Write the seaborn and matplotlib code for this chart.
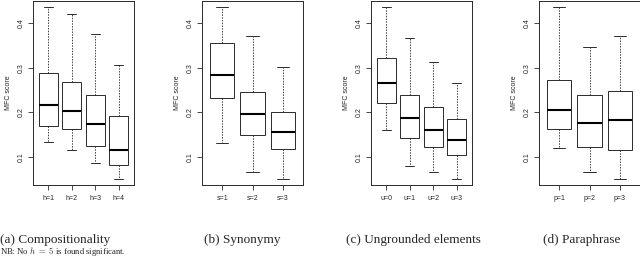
import numpy as np
import pandas as pd
import matplotlib
matplotlib.use("Agg")
import matplotlib.pyplot as plt
import seaborn as sns

# five-number summaries: min, q1, median, q3, max
comp_labels = ["h=1", "h=2", "h=3", "h=4"]
comp_vals = [[0.133, 0.169, 0.217, 0.289, 0.436],
             [0.116, 0.163, 0.203, 0.268, 0.420],
             [0.085, 0.124, 0.173, 0.239, 0.375],
             [0.051, 0.081, 0.115, 0.192, 0.307]]

syn_labels = ["s=1", "s=2", "s=3"]
syn_vals = [[0.131, 0.231, 0.284, 0.356, 0.436],
            [0.066, 0.148, 0.196, 0.245, 0.372],
            [0.051, 0.117, 0.155, 0.201, 0.301]]

ung_labels = ["u=0", "u=1", "u=2", "u=3"]
ung_vals = [[0.159, 0.220, 0.265, 0.323, 0.436],
            [0.079, 0.143, 0.186, 0.239, 0.368],
            [0.065, 0.121, 0.160, 0.212, 0.313],
            [0.050, 0.104, 0.138, 0.184, 0.266]]

para_labels = ["p=1", "p=2", "p=3"]
para_vals = [[0.120, 0.163, 0.205, 0.272, 0.436],
             [0.065, 0.121, 0.176, 0.239, 0.347],
             [0.050, 0.116, 0.182, 0.248, 0.372]]

captions = ["(a) Compositionality", "(b) Synonymy",
            "(c) Ungrounded elements", "(d) Paraphrase"]
caption_x = [0, 204, 346, 543]

panels = [(comp_labels, comp_vals), (syn_labels, syn_vals),
          (ung_labels, ung_vals), (para_labels, para_vals)]
ax_left = [33, 202, 371, 539]


def to_long(labels, vals):
    rows = []
    for lab, v in zip(labels, vals):
        for x in v:
            rows.append({"group": lab, "score": x})
    return pd.DataFrame(rows)


sns.set_style("white")
plt.rcParams["font.family"] = ["Liberation Sans", "DejaVu Sans"]
plt.rcParams["mathtext.fontset"] = "cm"

fig = plt.figure(figsize=(6.4, 2.6), dpi=100)
W, H = 640, 260
edge = "#2a2a2a"

for (labels, vals), left in zip(panels, ax_left):
    ax = fig.add_axes([left / W, 1 - 185 / H, 101 / W, 184.5 / H])
    df = to_long(labels, vals)
    sns.boxplot(data=df, x="group", y="score", ax=ax, whis=np.inf,
                width=0.8, color="white", linecolor=edge, linewidth=0.7,
                whiskerprops=dict(linestyle=(0, (1.8, 1.5)), linewidth=0.6),
                medianprops=dict(linewidth=1.5, color="black"),
                capprops=dict(linewidth=0.7))
    n = len(labels)
    ax.set_xlim(-0.66, n - 0.34)
    ax.set_ylim(0.0364, 0.4513)
    ax.set_yticks([0.1, 0.2, 0.3, 0.4])
    ax.set_yticklabels(["0.1", "0.2", "0.3", "0.4"], rotation=90, va="center")
    ax.set_xlabel("")
    ax.set_ylabel("MFC score", fontsize=5)
    ax.yaxis.set_label_coords(-0.21, 0.5)
    ax.tick_params(axis="both", labelsize=5, length=3.6, width=0.6,
                   direction="out", color=edge, pad=2.5, left=True, bottom=True)
    ax.tick_params(axis="x", pad=3.5)
    for s in ax.spines.values():
        s.set_visible(True)
        s.set_color(edge)
        s.set_linewidth(0.7)

for cap, cx in zip(captions, caption_x):
    fig.text(cx / W, 1 - 239.5 / H, cap, family="Liberation Serif",
             fontsize=9.5, va="center", ha="left")

fig.text(0, 1 - 252 / H, r"NB: No $h\ =\ 5$ is found significant.",
         family="Liberation Serif", fontsize=6.2, va="center", ha="left")

fig.savefig("out.png", dpi=100)
